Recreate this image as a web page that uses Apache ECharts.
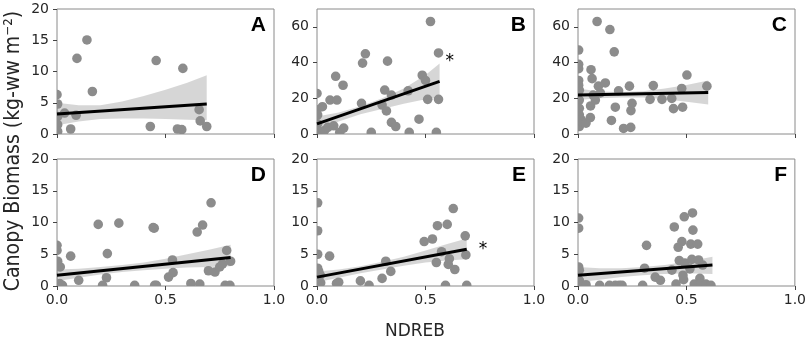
<!DOCTYPE html>
<html>
<head>
<meta charset="utf-8">
<script src="https://cdn.jsdelivr.net/npm/echarts@6/dist/echarts.min.js"></script>
<style>
html, body {margin: 0; padding: 0; background: #fff;}
#chart {width: 809px; height: 343px;}
</style>
</head>
<body>
<div id="chart"></div>
<script>
// ---- data: [NDREB, biomass] ----
const ptsA = [[0,6.3],[0.003,4.8],[0.003,2.8],[0.003,1.5],[0.003,0.4],[0.035,3.35],[0.063,0.8],[0.088,3.0],[0.092,12.1],
  [0.138,15.05],[0.163,6.8],[0.43,1.2],[0.457,11.75],[0.555,0.8],[0.575,0.7],[0.58,10.5],[0.655,3.9],[0.66,2.1],[0.69,1.2]];
const lineA = [[0,3.2],[0.69,4.8]];
const bandXA = [0,0.1,0.2,0.3,0.4,0.5,0.6,0.69];
const bandLoA = [1.4,2.0,2.4,2.5,2.5,2.4,2.3,2.2];
const bandHiA = [5.0,4.6,4.6,5.2,6.1,7.1,8.2,9.4];

const ptsB = [[0,22.7],[0,13.5],[0.003,10.7],[0.003,5.7],[0.008,1.5],[0.025,15.3],[0.035,2],[0.05,3.7],[0.06,19],[0.077,4.6],
  [0.086,32.3],[0.092,19],[0.105,1],[0.12,27.3],[0.123,3.3],[0.205,17.2],[0.21,39.7],[0.223,44.9],[0.25,0.9],[0.30,16.2],
  [0.312,24.6],[0.32,12.9],[0.325,40.8],[0.343,21.8],[0.343,6.5],[0.363,4.2],[0.42,24.2],[0.425,0.9],[0.47,8.3],[0.485,32.9],
  [0.50,30],[0.51,19.4],[0.523,63],[0.55,0.9],[0.56,45.4],[0.56,19.4]];
const lineB = [[0,5.7],[0.565,29.5]];
const bandXB = [0,0.1,0.2,0.3,0.4,0.5,0.565];
const bandLoB = [2.0,7,11,14,17,19.5,20.5];
const bandHiB = [9.8,12,15.5,20,25.5,33,39.5];

const ptsC = [[0.003,47],[0.003,39],[0.003,36.6],[0.003,30],[0.003,27.3],[0.006,24.5],[0.006,19],[0.006,14.4],[0.006,10.7],
  [0.006,4.2],[0.014,8],[0.02,6.5],[0.037,6.1],[0.057,9.2],[0.058,15.7],[0.06,36],[0.065,31],[0.07,21.8],[0.08,19],[0.088,63],
  [0.094,26.8],[0.103,23],[0.126,28.6],[0.147,58.5],[0.154,7.6],[0.167,46],[0.172,15],[0.187,24.2],[0.21,3.1],[0.237,26.8],
  [0.243,3.7],[0.244,13.1],[0.249,17.2],[0.332,19.4],[0.347,27.1],[0.387,19.4],[0.432,19.9],[0.44,14.2],[0.482,15],
  [0.478,25.5],[0.502,33],[0.594,26.8]];
const lineC = [[0,21.8],[0.6,23.3]];
const bandXC = [0,0.1,0.2,0.3,0.4,0.5,0.6];
const bandLoC = [19,20,20.5,20.5,19.5,18,16.5];
const bandHiC = [25.5,23.8,23.5,24,25.5,27.5,30];

const ptsD = [[0,6.4],[0,5.6],[0.003,3.9],[0.015,3.0],[0.012,0.4],[0.025,0.1],[0.063,4.7],[0.10,0.9],[0.19,9.7],[0.21,0.1],
  [0.228,1.3],[0.232,5.1],[0.285,9.9],[0.358,0.1],[0.443,9.2],[0.448,9.1],[0.45,0.1],[0.458,0.1],[0.514,1.4],[0.532,4.1],
  [0.535,2.1],[0.617,0.4],[0.646,8.5],[0.658,0.3],[0.671,9.6],[0.698,2.4],[0.71,13.1],[0.728,2.2],[0.75,3.0],[0.763,3.5],
  [0.775,0.1],[0.782,5.6],[0.797,0.1],[0.80,3.9]];
const lineD = [[0,1.7],[0.8,4.5]];
const bandXD = [0,0.1,0.2,0.3,0.4,0.5,0.6,0.7,0.8];
const bandLoD = [0.8,1.3,1.8,2.2,2.5,2.7,2.9,3.0,3.1];
const bandHiD = [2.6,2.7,3.0,3.3,3.7,4.3,5.0,5.7,6.5];

const ptsE = [[0.003,13.1],[0.003,8.7],[0.003,5.0],[0.003,2.8],[0.008,2.3],[0.015,1.7],[0.017,0.5],[0.058,4.7],[0.09,0.4],
  [0.10,0.6],[0.2,0.8],[0.24,0.1],[0.30,1.2],[0.317,3.9],[0.34,2.3],[0.494,7.0],[0.532,7.4],[0.55,3.7],[0.555,9.5],
  [0.574,5.4],[0.592,0.1],[0.60,9.7],[0.605,3.4],[0.61,4.3],[0.628,12.2],[0.635,2.6],[0.683,7.9],[0.686,4.9],[0.69,0.1]];
const lineE = [[0,1.4],[0.69,5.8]];
const bandXE = [0,0.1,0.2,0.3,0.4,0.5,0.6,0.69];
const bandLoE = [0.6,1.3,2.0,2.6,3.2,3.7,4.0,4.2];
const bandHiE = [2.3,2.6,3.1,3.8,4.6,5.6,6.6,7.5];

const ptsF = [[0.003,10.7],[0.003,9.1],[0.003,3.0],[0.006,2.5],[0.006,0.9],[0.006,0.3],[0.037,0.2],[0.10,0.1],[0.145,0.1],
  [0.172,0.1],[0.19,0.1],[0.203,0.1],[0.298,0.1],[0.307,2.8],[0.316,6.4],[0.356,1.4],[0.38,0.9],[0.433,2.5],[0.444,9.3],
  [0.452,0.3],[0.462,6.1],[0.467,4.0],[0.479,7.0],[0.484,1.7],[0.487,1.0],[0.49,10.9],[0.493,3.6],[0.516,2.7],[0.52,6.6],
  [0.525,4.2],[0.528,11.5],[0.53,8.8],[0.536,0.3],[0.552,6.6],[0.556,4.1],[0.562,1.2],[0.567,0.4],[0.575,3.3],[0.59,0.3],[0.613,0.1]];
const lineF = [[0,1.7],[0.62,3.3]];
const bandXF = [0,0.1,0.2,0.3,0.4,0.5,0.62];
const bandLoF = [0.6,1.0,1.4,1.7,1.9,2.0,1.9];
const bandHiF = [3.0,2.8,2.8,3.0,3.3,3.8,4.6];

const letters = ['A','B','C','D','E','F'];
const yTicks20 = [0,5,10,15,20];
const yTicks70 = [0,20,40,60];
const xTicks = [0,0.5,1];

const panels = [
  {pts: ptsA, line: lineA, bx: bandXA, lo: bandLoA, hi: bandHiA, yMax: 20, yTicks: yTicks20},
  {pts: ptsB, line: lineB, bx: bandXB, lo: bandLoB, hi: bandHiB, yMax: 70, yTicks: yTicks70, star: [-2, -20]},
  {pts: ptsC, line: lineC, bx: bandXC, lo: bandLoC, hi: bandHiC, yMax: 70, yTicks: yTicks70},
  {pts: ptsD, line: lineD, bx: bandXD, lo: bandLoD, hi: bandHiD, yMax: 20, yTicks: yTicks20},
  {pts: ptsE, line: lineE, bx: bandXE, lo: bandLoE, hi: bandHiE, yMax: 20, yTicks: yTicks20, star: [4, 0]},
  {pts: ptsF, line: lineF, bx: bandXF, lo: bandLoF, hi: bandHiF, yMax: 20, yTicks: yTicks20}
];

const lefts = [57, 317, 578];
const tops = [9, 159];
const heights = [125, 127];
const W = 217;
const tickFont = {fontFamily: 'DejaVu Sans', fontSize: 14, color: '#262626'};

let grid = [], xAxis = [], yAxis = [], series = [], graphic = [];

panels.forEach((p, i) => {
  const row = Math.floor(i / 3), col = i % 3;
  grid.push({left: lefts[col], top: tops[row], width: W, height: heights[row],
    show: true, borderColor: '#8a8a8a', borderWidth: 1, backgroundColor: 'transparent'});
  xAxis.push({type: 'value', gridIndex: i, min: 0, max: 1,
    axisLine: {show: false}, splitLine: {show: false},
    axisTick: {show: true, length: 4, lineStyle: {color: '#444'}, customValues: xTicks},
    axisLabel: Object.assign({show: row === 1, margin: 7, customValues: xTicks,
      formatter: v => v.toFixed(1)}, tickFont)});
  yAxis.push({type: 'value', gridIndex: i, min: 0, max: p.yMax,
    axisLine: {show: false}, splitLine: {show: false},
    axisTick: {show: true, length: 4, lineStyle: {color: '#444'}, customValues: p.yTicks},
    axisLabel: Object.assign({margin: 8, customValues: p.yTicks}, tickFont)});

  // confidence band
  series.push({type: 'custom', xAxisIndex: i, yAxisIndex: i, silent: true, z: 1,
    data: [[0, 0]],
    renderItem: (params, api) => {
      const pts = [];
      p.bx.forEach((x, k) => pts.push(api.coord([x, p.hi[k]])));
      for (let k = p.bx.length - 1; k >= 0; k--) pts.push(api.coord([p.bx[k], p.lo[k]]));
      return {type: 'polygon', shape: {points: pts}, style: {fill: 'rgba(0,0,0,0.16)'}};
    }});
  // points, clipped at the frame like matplotlib
  series.push({type: 'custom', xAxisIndex: i, yAxisIndex: i, z: 2, silent: true, clip: true,
    data: p.pts,
    renderItem: (params, api) => {
      const c = api.coord([api.value(0), api.value(1)]);
      return {type: 'circle', shape: {cx: c[0], cy: c[1], r: 4.8}, style: {fill: '#8c8c8c'}};
    }});
  // fit line
  const ln = {type: 'line', xAxisIndex: i, yAxisIndex: i, z: 3, silent: true,
    symbol: 'none', lineStyle: {color: '#000', width: 3}, data: p.line};
  if (p.star) {
    ln.endLabel = {show: true, formatter: '*', fontFamily: 'DejaVu Sans', fontSize: 17,
      color: '#000', offset: p.star};
  }
  series.push(ln);

  graphic.push({type: 'text', right: 809 - (lefts[col] + W) + 8, top: tops[row] + 6,
    style: {text: letters[i], font: 'bold 21px "Liberation Sans", Arial', fill: '#000'}});
});

graphic.push({type: 'text', x: 14, y: 151, rotation: Math.PI / 2, scaleX: 0.9,
  style: {text: 'Canopy Biomass (kg-ww m\u207B\u00B2)', font: '21px "DejaVu Sans"', fill: '#262626',
    align: 'center', verticalAlign: 'middle'}});
graphic.push({type: 'text', x: 415, y: 332,
  style: {text: 'NDREB', font: '17px "DejaVu Sans"', fill: '#262626', align: 'center', verticalAlign: 'middle'}});

const chart = echarts.init(document.getElementById('chart'), null, {renderer: 'canvas'});
chart.setOption({
  animation: false,
  backgroundColor: '#fff',
  grid, xAxis, yAxis, series, graphic
});
</script>
</body>
</html>
